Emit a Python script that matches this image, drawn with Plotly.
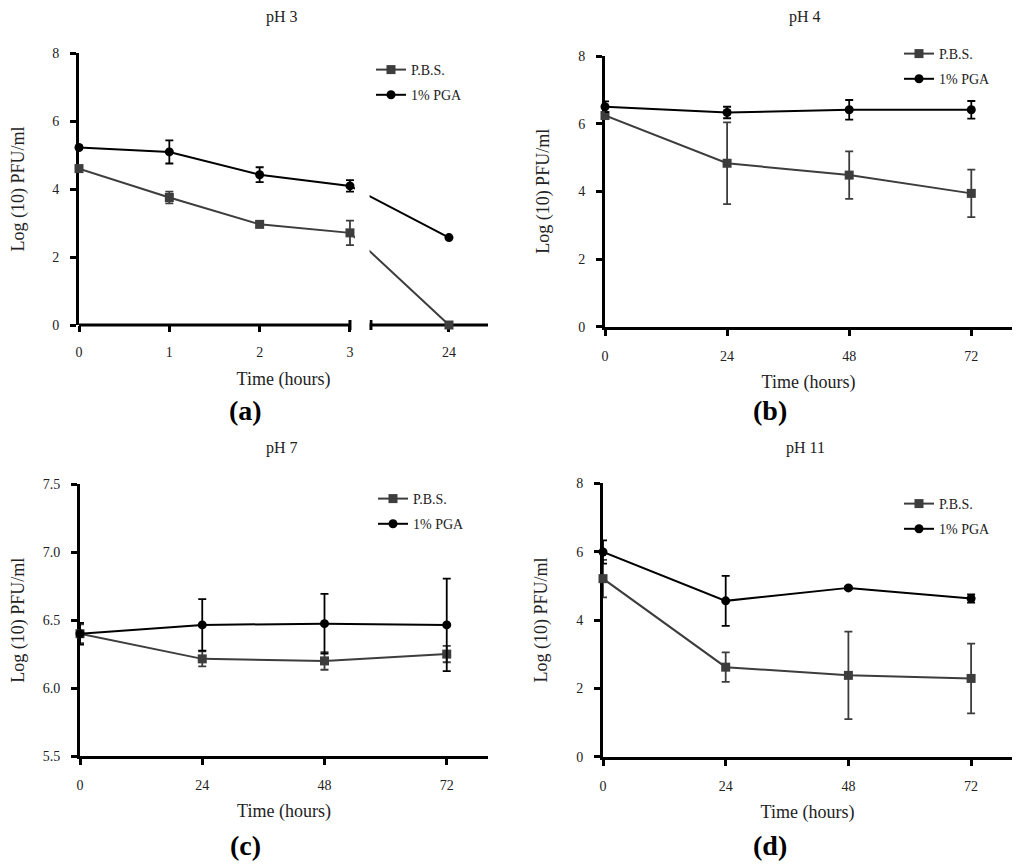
import plotly.graph_objects as go

# ---- data ----
hours_a = [0, 1, 2, 3, 24]
pbs_a = [4.6, 3.75, 2.96, 2.71, 0.0]
pbs_a_err = [0.08, 0.17, 0.08, 0.36, 0.0]
pga_a = [5.22, 5.09, 4.42, 4.09, 2.57]
pga_a_err = [0.05, 0.34, 0.22, 0.17, 0.0]

hours = [0, 24, 48, 72]

pbs_b = [6.24, 4.83, 4.48, 3.94]
pbs_b_err = [0.05, 1.21, 0.70, 0.70]
pga_b = [6.50, 6.33, 6.41, 6.41]
pga_b_err = [0.16, 0.17, 0.29, 0.26]

pbs_c = [6.40, 6.215, 6.20, 6.25]
pbs_c_err = [0.07, 0.055, 0.065, 0.06]
pga_c = [6.40, 6.465, 6.474, 6.465]
pga_c_err = [0.08, 0.19, 0.22, 0.34]

pbs_d = [5.21, 2.62, 2.38, 2.29]
pbs_d_err = [0.55, 0.43, 1.28, 1.02]
pga_d = [5.99, 4.56, 4.94, 4.63]
pga_d_err = [0.34, 0.73, 0.04, 0.12]

titles = ['pH 3', 'pH 4', 'pH 7', 'pH 11']
panel_tags = ['(a)', '(b)', '(c)', '(d)']
series_names = ['P.B.S.', '1% PGA']

# ---- broken x axis for panel (a): 0-3 h, then a short window round 24 h ----
SEG1_END = 3
GAP = 0.232
SEG2_H = (21.0, 25.5)
SEG2_PER_H = 0.288
SEG2_START = SEG1_END + GAP
SEG2_END = SEG2_START + (SEG2_H[1] - SEG2_H[0]) * SEG2_PER_H


def axis_pos(t):
    if t <= SEG1_END:
        return t
    return SEG2_START + (t - SEG2_H[0]) * SEG2_PER_H


FONT = 'Liberation Serif'
PBS_COL = '#3d3d3d'
PGA_COL = '#000000'
PAGE_PAD = 8  # the page body keeps its default 8px margin
W, H = 1024 - PAGE_PAD, 866 - PAGE_PAD


def px_x(p):
    return (p - PAGE_PAD) / W


def px_y(p):
    return 1 - (p - PAGE_PAD) / H


fig = go.Figure()

panels = [
    (1, [axis_pos(t) for t in hours_a], pbs_a, pbs_a_err, pga_a, pga_a_err),
    (2, hours, pbs_b, pbs_b_err, pga_b, pga_b_err),
    (3, hours, pbs_c, pbs_c_err, pga_c, pga_c_err),
    (4, hours, pbs_d, pbs_d_err, pga_d, pga_d_err),
]

for idx, xs, pbs, pbs_err, pga, pga_err in panels:
    sfx = '' if idx == 1 else str(idx)
    leg = 'legend' if idx == 1 else 'legend' + str(idx)
    for name, ys, err, col, sym in [
        (series_names[0], pbs, pbs_err, PBS_COL, 'square'),
        (series_names[1], pga, pga_err, PGA_COL, 'circle'),
    ]:
        fig.add_trace(go.Scatter(
            x=xs, y=ys, name=name, mode='lines+markers',
            xaxis='x' + sfx, yaxis='y' + sfx,
            legend=leg, legendgroup=name + sfx,
            line=dict(color=col, width=2),
            marker=dict(symbol=sym, size=9, color=col),
            error_y=dict(type='data', array=err, color=col,
                         thickness=1.8, width=4),
            cliponaxis=False,
        ))

# layout: axes
x_domains = [(79, 488), (605, 1012), (80, 488), (603, 1012)]
y_domains = [(53, 325), (56, 326.7), (484.3, 756), (483.3, 756.7)]
x_ranges = [[0, SEG2_END], [0, 80.0], [0, 80.1], [0, 80.0]]
y_ranges = [[0, 8], [0, 8], [5.5, 7.5], [0, 8]]
y_title_standoff = [24, 24, 16, 24]

tick_font = dict(family=FONT, size=14, color='#222')
title_font = dict(family=FONT, size=18, color='#222')

layout = dict(
    width=W, height=H,
    margin=dict(l=0, r=0, t=0, b=0, autoexpand=False),
    paper_bgcolor='white', plot_bgcolor='white',
    showlegend=True,
)

for i in range(4):
    sfx = '' if i == 0 else str(i + 1)
    xa = dict(
        domain=[px_x(x_domains[i][0]), px_x(x_domains[i][1])],
        range=x_ranges[i], anchor='y' + sfx, automargin=False,
        showgrid=False, zeroline=False,
        showline=(i != 0), linecolor='black', linewidth=3,
        ticks='outside', ticklen=6, tickwidth=3, tickcolor='black',
        tickfont=tick_font, ticklabelstandoff=8,
        layer='below traces',
        title=dict(text='Time (hours)', font=title_font, standoff=13),
    )
    if i == 0:
        xa['tickvals'] = [axis_pos(t) for t in hours_a]
        xa['ticktext'] = [str(t) for t in hours_a]
    else:
        xa['tickvals'] = hours
        xa['ticktext'] = [str(t) for t in hours]
    ya = dict(
        domain=[px_y(y_domains[i][1]), px_y(y_domains[i][0])],
        range=y_ranges[i], anchor='x' + sfx, automargin=False,
        showgrid=False, zeroline=False,
        showline=True, linecolor='black', linewidth=3,
        ticks='outside', ticklen=6, tickwidth=3, tickcolor='black',
        tickfont=tick_font, ticklabelstandoff=8,
        layer='below traces',
        title=dict(text='Log (10) PFU/ml', font=title_font, standoff=y_title_standoff[i]),
    )
    if i == 2:
        ya['dtick'] = 0.5
        ya['tickformat'] = '.1f'
    else:
        ya['dtick'] = 2
    layout['xaxis' + sfx] = xa
    layout['yaxis' + sfx] = ya

# legends
leg_pos = [(371, 54), (899, 38), (373, 483), (899, 488)]
for i, (lx, ly) in enumerate(leg_pos):
    key = 'legend' if i == 0 else 'legend' + str(i + 1)
    layout[key] = dict(
        x=px_x(lx), y=px_y(ly), xanchor='left', yanchor='top',
        bgcolor='rgba(0,0,0,0)', font=dict(family=FONT, size=14, color='#222'),
        traceorder='grouped', tracegroupgap=4, itemwidth=30,
    )

fig.update_layout(**layout)

# panel titles and tags
title_pos = [(282, 17), (805, 17), (282, 448), (805, 448)]
tag_pos = [(245, 410), (770, 410), (245, 845), (770, 845)]
for i in range(4):
    fig.add_annotation(text=titles[i], xref='paper', yref='paper',
                       x=px_x(title_pos[i][0]), y=px_y(title_pos[i][1]),
                       xanchor='center', yanchor='middle',
                       showarrow=False, font=dict(family=FONT, size=16, color='#222'))
    fig.add_annotation(text='<b>' + panel_tags[i] + '</b>', xref='paper', yref='paper',
                       x=px_x(tag_pos[i][0]), y=px_y(tag_pos[i][1]),
                       xanchor='center', yanchor='middle',
                       showarrow=False, font=dict(family=FONT, size=28, color='black'))

# broken x axis of panel (a): mask the gap, then draw both axis pieces
# (yref paper so the thick line is not clipped at the plot edge)
axis_y = px_y(y_domains[0][1])
mark = 5 / H
fig.add_shape(type='rect', xref='x', yref='y', x0=SEG1_END + 0.055, x1=SEG2_START - 0.015,
              y0=0.05, y1=8, fillcolor='white', line_width=0, layer='above')
fig.add_shape(type='line', xref='x', yref='paper', x0=0, x1=SEG1_END, y0=axis_y, y1=axis_y,
              line=dict(color='black', width=3), layer='below')
fig.add_shape(type='line', xref='x', yref='paper', x0=SEG2_START, x1=SEG2_END, y0=axis_y, y1=axis_y,
              line=dict(color='black', width=3), layer='below')
for bx in [SEG1_END, SEG2_START]:
    fig.add_shape(type='line', xref='x', yref='paper', x0=bx, x1=bx,
                  y0=axis_y - mark, y1=axis_y + mark,
                  line=dict(color='black', width=3), layer='below')

fig.write_html("out.html")
